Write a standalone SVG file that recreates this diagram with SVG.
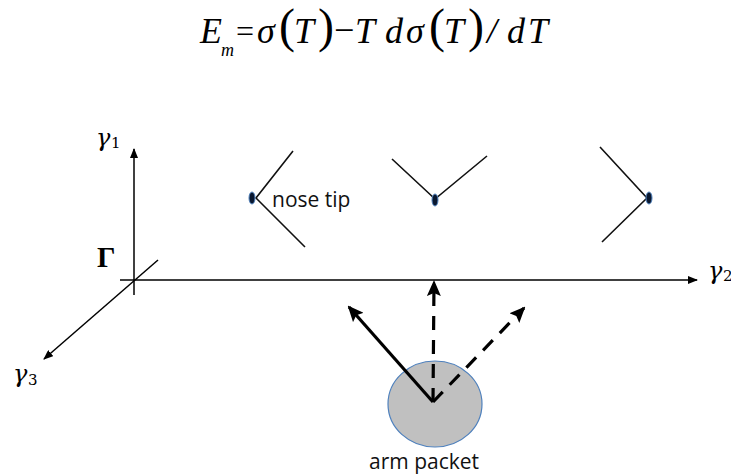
<svg xmlns="http://www.w3.org/2000/svg" width="731" height="476" viewBox="0 0 731 476">
<style>
.eq{font-family:"Liberation Serif","DejaVu Serif",serif;font-style:italic;font-size:36px;fill:#000}
.up{font-family:"Liberation Serif","DejaVu Serif",serif;font-style:normal;fill:#000}
.gm{font-family:"DejaVu Serif","Liberation Serif",serif;font-style:italic;font-size:24px;fill:#000}
.sub{font-family:"DejaVu Serif","Liberation Serif",serif;font-size:15px;fill:#000}
.lbl{font-family:"Open Sans","Liberation Sans",sans-serif;font-size:21px;fill:#111}
.ax{stroke:#000;stroke-width:1.5;fill:none}
.face{stroke:#111;stroke-width:1.6;fill:none}
.dot{fill:#0a1830;stroke:#4f81bd;stroke-width:1}
.vec{stroke:#000;stroke-width:3.2;fill:none}
.dash{stroke-dasharray:14 10}
</style>
<defs>
<marker id="ahs" markerWidth="10" markerHeight="8" refX="9" refY="4" orient="auto" markerUnits="userSpaceOnUse"><path d="M0,0 L10,4 L0,8 Z" fill="#000"/></marker>
<marker id="ahb" markerWidth="16" markerHeight="14" refX="14" refY="7" orient="auto" markerUnits="userSpaceOnUse"><path d="M0,0 L16,7 L0,14 L3,7 Z" fill="#000"/></marker>
</defs>

<g id="equation">
<text class="eq" x="200" y="43">E</text>
<text class="eq" style="font-size:18px" x="221" y="56">m</text>
<text class="up" style="font-size:32px" x="236" y="42">=</text>
<text class="eq" x="257" y="43">σ</text>
<text class="up" style="font-size:48px" x="279" y="42">(</text>
<text class="eq" x="294" y="43">T</text>
<text class="up" style="font-size:48px" x="318" y="42">)</text>
<text class="up" style="font-size:36px" x="334" y="42">−</text>
<text class="eq" x="355" y="43">T</text>
<text class="eq" x="385" y="43">d</text>
<text class="eq" x="406" y="43">σ</text>
<text class="up" style="font-size:48px" x="429" y="42">(</text>
<text class="eq" x="444" y="43">T</text>
<text class="up" style="font-size:48px" x="468" y="42">)</text>
<text class="eq" x="487" y="43">/</text>
<text class="eq" x="507" y="43">d</text>
<text class="eq" x="528" y="43">T</text>
</g>

<g id="axis-labels">
<text class="gm" x="96" y="146">γ</text>
<text class="sub" x="111" y="148">1</text>
<text class="up" style="font-size:29px;font-weight:bold" x="97" y="267">Γ</text>
<text class="gm" x="708" y="279">γ</text>
<text class="sub" x="723" y="281">2</text>
<text class="gm" x="13" y="382">γ</text>
<text class="sub" x="28" y="385">3</text>
</g>

<g id="nose-left">
<polyline class="face" points="293,151 256,198 305,247"/>
<ellipse class="dot" cx="252" cy="198" rx="3" ry="6"/>
<text class="lbl" x="272" y="207">nose tip</text>
</g>

<g id="nose-middle">
<polyline class="face" points="392,159 435,199 487,156"/>
<ellipse class="dot" cx="435" cy="200" rx="3" ry="6"/>
</g>

<g id="nose-right">
<polyline class="face" points="600,147 647,198 602,242"/>
<ellipse class="dot" cx="649" cy="198" rx="3" ry="6"/>
</g>

<g id="arm-packet">
<ellipse cx="435" cy="404" rx="47" ry="43" fill="#c0c0c0" stroke="#4f81bd" stroke-width="1.2"/>
<text class="lbl" x="369" y="469">arm packet</text>
</g>

<g id="connectors">
<line class="ax" x1="134" y1="295" x2="134" y2="149" marker-end="url(#ahs)"/>
<line class="ax" x1="120" y1="280" x2="697" y2="280" marker-end="url(#ahs)"/>
<line class="ax" x1="158" y1="260" x2="44" y2="359" marker-end="url(#ahs)"/>
<line class="vec" x1="433" y1="402" x2="349" y2="307" marker-end="url(#ahb)"/>
<line class="vec dash" x1="433" y1="402" x2="434" y2="282" marker-end="url(#ahb)"/>
<line class="vec dash" x1="433" y1="402" x2="524" y2="308" marker-end="url(#ahb)"/>
</g>
</svg>
